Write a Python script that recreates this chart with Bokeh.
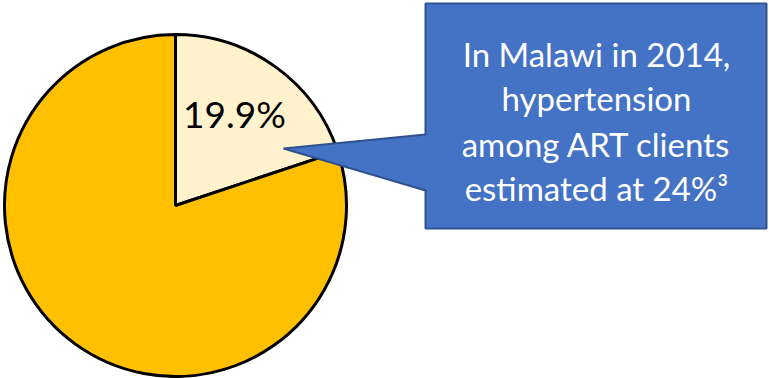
import math
from bokeh.plotting import figure
from bokeh.models import Range1d, ColumnDataSource
from bokeh.core.properties import value
from bokeh.embed import file_html
from bokeh.resources import INLINE

# Share of ART clients with hypertension vs. the rest
categories = ["Hypertension", "Other"]
shares = [19.9, 80.1]
slice_colors = ["#FFF2CC", "#FFC000"]
share_label = "19.9%"

callout_lines = [
    "In Malawi in 2014,",
    "hypertension",
    "among ART clients",
    "estimated at 24%\u00b3",
]

W, H = 769, 378
p = figure(width=W, height=H, output_backend="svg", toolbar_location=None,
           x_range=Range1d(0, W), y_range=Range1d(0, H), min_border=0)
p.axis.visible = False
p.grid.visible = False
p.outline_line_color = None
p.background_fill_color = "white"

# Pie, starting at 12 o'clock and running clockwise
cx, cy, r = 175, H - 205, 171
total = sum(shares)
starts, ends = [], []
a = math.pi / 2
for s in shares:
    starts.append(a)
    a -= 2 * math.pi * s / total
    ends.append(a)
src = ColumnDataSource(dict(cat=categories, start=starts, end=ends, color=slice_colors))
p.wedge(x=cx, y=cy, radius=r, radius_units="screen", start_angle="start", end_angle="end",
        direction="clock", fill_color="color", line_color="black", line_width=3, source=src)

p.text(x=[234], y=[H - 113], text=[share_label], text_font=value("Lato"),
       text_font_size="37px", text_align="center", text_baseline="middle", text_color="black")

# Callout box with pointer into the small slice
bx = [425, 766, 766, 425, 425, 283, 425, 425]
by = [3, 3, 228, 228, 190, 148, 134, 3]
p.patch(x=bx, y=[H - v for v in by], fill_color="#4472C4", line_color="#2F528F", line_width=2)

line_y = [53, 97, 143, 187]
p.text(x=[596] * len(callout_lines), y=[H - v for v in line_y], text=callout_lines,
       text_font=value("Lato"), text_font_size="33px", text_align="center",
       text_baseline="middle", text_color="white")

open("out.html", "w").write(file_html(p, INLINE))
